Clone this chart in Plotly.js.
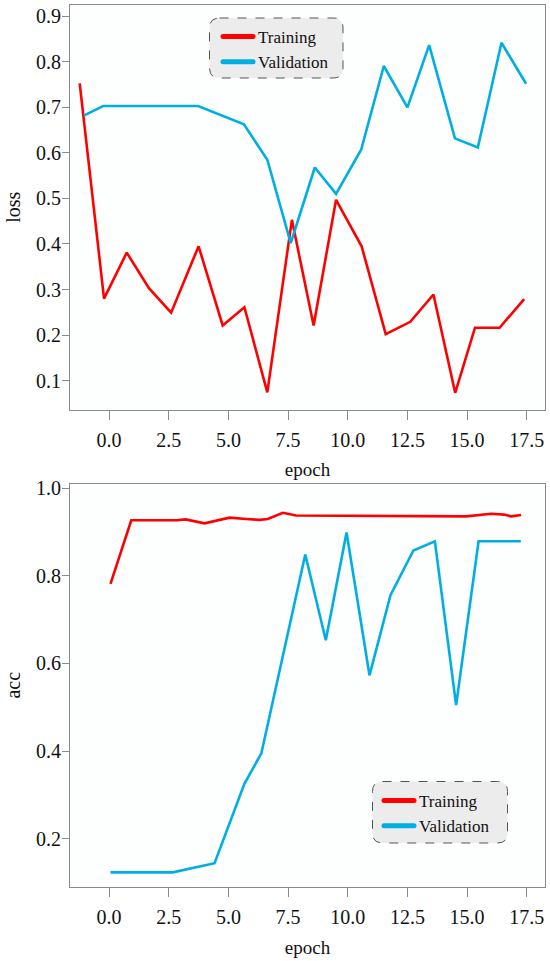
<!DOCTYPE html>
<html>
<head>
<meta charset="utf-8">
<script src="https://cdn.plot.ly/plotly-3.0.1.min.js"></script>
<style>
  html, body { margin: 0; padding: 0; background: #ffffff; }
  #chart { width: 550px; height: 961px; }
</style>
</head>
<body>
<div id="chart"></div>
<script>
// ---- data ----
const seriesNames = ["Training", "Validation"];

const lossEpochTrain = [-1.23, -0.21, 0.74, 1.67, 2.60, 3.75, 4.76, 5.67, 6.63, 7.66, 8.57, 9.51, 10.58, 11.59, 12.62, 13.59, 14.50, 15.33, 16.36, 17.39];
const lossTrain      = [0.753, 0.280, 0.381, 0.303, 0.249, 0.395, 0.221, 0.261, 0.074, 0.453, 0.221, 0.497, 0.395, 0.202, 0.229, 0.289, 0.073, 0.216, 0.216, 0.279];

const lossEpochVal = [-1.06, -0.25, 3.73, 5.65, 6.63, 7.61, 8.62, 9.51, 10.56, 11.51, 12.50, 13.41, 14.49, 15.45, 16.44, 17.47];
const lossVal      = [0.682, 0.703, 0.703, 0.663, 0.585, 0.402, 0.568, 0.510, 0.607, 0.791, 0.700, 0.837, 0.632, 0.612, 0.842, 0.752];

const accEpochTrain = [0.06, 0.93, 2.81, 3.21, 4.00, 5.05, 5.74, 6.30, 6.65, 7.28, 7.84, 12.79, 14.96, 16.00, 16.56, 16.84, 17.26];
const accTrain      = [0.782, 0.927, 0.927, 0.929, 0.920, 0.933, 0.930, 0.928, 0.930, 0.944, 0.938, 0.936, 0.936, 0.942, 0.940, 0.936, 0.939];

const accEpochVal = [0.06, 2.67, 4.42, 5.67, 6.38, 8.22, 9.08, 9.95, 10.91, 11.79, 12.75, 13.65, 14.54, 15.48, 17.25];
const accVal      = [0.123, 0.123, 0.144, 0.325, 0.395, 0.849, 0.653, 0.899, 0.573, 0.756, 0.858, 0.879, 0.505, 0.879, 0.879];

const xTitle = "epoch";
const yTitleTop = "loss";
const yTitleBottom = "acc";

// ---- styling ----
const W = 550, H = 961;
const M = { l: 70, r: 5, t: 5, b: 74 };
const PW = W - M.l - M.r, PH = H - M.t - M.b;
const px2x = p => (p - M.l) / PW;
const px2y = p => (H - M.b - p) / PH;

const RED = "#ff0000", BLUE = "#00aee2";
const FRAME = "#8a8a8a";
const FONT = "'Liberation Serif', 'Times New Roman', Times, serif";
const lineW = 2.6;

function roundedBox(x0, y0, x1, y1, r) {
  const X0 = px2x(x0), X1 = px2x(x1), Y0 = px2y(y0), Y1 = px2y(y1);
  const rx = r / PW, ry = r / PH;
  return `M${X0 + rx},${Y0} L${X1 - rx},${Y0} Q${X1},${Y0} ${X1},${Y0 - ry} ` +
         `L${X1},${Y1 + ry} Q${X1},${Y1} ${X1 - rx},${Y1} ` +
         `L${X0 + rx},${Y1} Q${X0},${Y1} ${X0},${Y1 + ry} ` +
         `L${X0},${Y0 - ry} Q${X0},${Y0} ${X0 + rx},${Y0} Z`;
}

const traces = [
  { x: lossEpochTrain, y: lossTrain, name: seriesNames[0], xaxis: "x", yaxis: "y", legend: "legend",
    mode: "lines", line: { color: RED, width: lineW } },
  { x: lossEpochVal, y: lossVal, name: seriesNames[1], xaxis: "x", yaxis: "y", legend: "legend",
    mode: "lines", line: { color: BLUE, width: lineW } },
  { x: accEpochTrain, y: accTrain, name: seriesNames[0], xaxis: "x2", yaxis: "y2", legend: "legend2",
    mode: "lines", line: { color: RED, width: lineW } },
  { x: accEpochVal, y: accVal, name: seriesNames[1], xaxis: "x2", yaxis: "y2", legend: "legend2",
    mode: "lines", line: { color: BLUE, width: lineW } }
];

const topDom = [px2y(409.5), 1];
const botDom = [0, px2y(483.5)];

function xAxis(anchor) {
  return {
    anchor: anchor, domain: [0, 1], range: [-1.636, 18.263],
    tick0: 0, dtick: 2.5, tickformat: ".1f",
    ticks: "outside", ticklen: 9, tickwidth: 1, tickcolor: FRAME,
    ticklabelstandoff: 3,
    showline: true, linecolor: FRAME, linewidth: 1, mirror: true,
    showgrid: false, zeroline: false,
    tickfont: { family: FONT, size: 20, color: "#111" },
    title: { text: xTitle, font: { family: FONT, size: 19, color: "#111" }, standoff: 13 }
  };
}
function yAxis(anchor, dom, range, dtick, title) {
  return {
    anchor: anchor, domain: dom, range: range,
    dtick: dtick, tickformat: ".1f",
    ticks: "outside", ticklen: 7, tickwidth: 1, tickcolor: FRAME,
    ticklabelstandoff: -3,
    showline: true, linecolor: FRAME, linewidth: 1, mirror: true,
    showgrid: false, zeroline: false,
    tickfont: { family: FONT, size: 20, color: "#111" },
    title: { text: title, font: { family: FONT, size: 20, color: "#111" }, standoff: 10 }
  };
}

const legendBase = {
  bgcolor: "rgba(0,0,0,0)", borderwidth: 0,
  font: { family: FONT, size: 17, color: "#111" },
  xanchor: "left", yanchor: "top", tracegroupgap: 0, itemwidth: 30
};

const layout = {
  width: W, height: H,
  margin: M,
  paper_bgcolor: "#ffffff",
  plot_bgcolor: "#fdfefe",
  showlegend: true,
  xaxis: xAxis("y"),
  yaxis: yAxis("x", topDom, [0.0364, 0.925], 0.1, yTitleTop),
  xaxis2: xAxis("y2"),
  yaxis2: yAxis("x2", botDom, [0.0896, 1.011], 0.2, yTitleBottom),
  legend: Object.assign({}, legendBase, { x: px2x(218), y: px2y(19) }),
  legend2: Object.assign({}, legendBase, { x: px2x(379), y: px2y(783) }),
  shapes: [
    { type: "path", xref: "paper", yref: "paper", path: roundedBox(209.5, 18, 343, 78, 10),
      fillcolor: "#ececec", line: { color: "#555", width: 1, dash: "dash" }, layer: "above" },
    { type: "path", xref: "paper", yref: "paper", path: roundedBox(372.5, 781.5, 507.5, 843, 10),
      fillcolor: "#ececec", line: { color: "#555", width: 1, dash: "dash" }, layer: "above" }
  ]
};

Plotly.newPlot("chart", traces, layout, { staticPlot: true, displayModeBar: false }).then(gd => {
  gd.querySelectorAll(".legendlines path").forEach(p => {
    p.style.strokeWidth = "5px";
    p.style.strokeLinecap = "round";
  });
});
</script>
</body>
</html>
